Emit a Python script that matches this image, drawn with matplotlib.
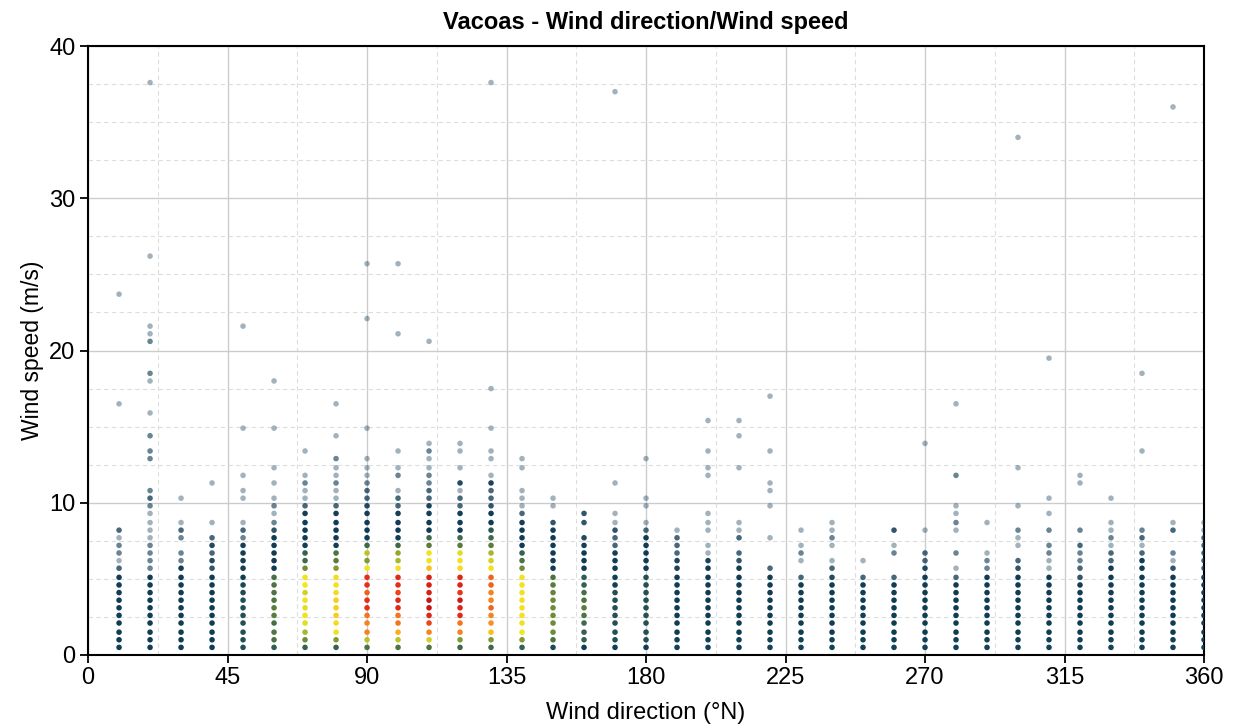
import matplotlib
matplotlib.use("Agg")
import matplotlib.pyplot as plt
from matplotlib.colors import LinearSegmentedColormap, Normalize
from matplotlib.ticker import MultipleLocator
import numpy as np

plt.rcParams['font.family'] = ['Liberation Sans', 'DejaVu Sans']

KT_TO_MS = 0.5144  # speeds were logged in knots

directions = [10, 20, 30, 40, 50, 60, 70, 80, 90, 100, 110, 120,
              130, 140, 150, 160, 170, 180, 190, 200, 210, 220, 230, 240,
              250, 260, 270, 280, 290, 300, 310, 320, 330, 340, 350, 360]

# observations per speed class (1 kt, 2 kt, 3 kt ...), one row per direction
core_counts = [
    [14, 14, 14, 14, 14, 14, 14, 14, 12, 10, 3, 1, 2, 2, 1, 3],
    [14, 14, 14, 14, 14, 14, 14, 14, 12, 10, 2, 2, 2, 2, 1, 1, 1, 1, 2, 3],
    [14, 14, 14, 14, 14, 14, 14, 14, 12, 10, 8, 2, 2, 0, 2, 3, 1, 0, 0, 1],
    [14, 14, 14, 14, 14, 14, 14, 14, 12, 10, 4, 5, 3, 5, 3, 0, 1],
    [22, 22, 22, 22, 22, 22, 22, 20, 18, 15, 8, 8, 8, 8, 2, 3, 1, 0, 0, 1],
    [28, 40, 42, 38, 45, 45, 42, 40, 40, 38, 10, 10, 10, 10, 10, 4, 2, 1, 2, 1],
    [30, 50, 65, 80, 90, 80, 90, 75, 85, 90, 50, 35, 30, 15, 12, 10, 10, 8, 3, 1],
    [30, 55, 90, 95, 105, 105, 105, 95, 90, 95, 55, 45, 40, 15, 12, 10, 10, 8, 3, 1],
    [40, 70, 130, 130, 135, 160, 160, 140, 160, 160, 90, 55, 70, 35, 15, 12, 10, 8, 5, 3],
    [40, 70, 115, 135, 135, 165, 165, 150, 160, 165, 90, 65, 60, 35, 15, 12, 10, 8, 3, 3],
    [40, 75, 130, 150, 170, 190, 190, 175, 175, 175, 110, 90, 90, 45, 35, 12, 10, 8, 6, 3],
    [35, 55, 130, 135, 165, 170, 185, 155, 170, 170, 95, 90, 80, 45, 35, 12, 10, 8, 3, 3],
    [35, 55, 110, 125, 130, 140, 130, 130, 140, 140, 90, 75, 65, 45, 35, 25, 10, 10, 4, 3],
    [30, 55, 85, 90, 90, 90, 90, 90, 90, 90, 50, 40, 30, 12, 10, 10, 8, 3, 1, 1],
    [20, 40, 50, 50, 50, 50, 50, 48, 45, 40, 12, 10, 10, 10, 10, 8, 4, 0, 1, 1],
    [12, 30, 30, 35, 40, 45, 40, 38, 30, 28, 10, 10, 10, 8, 5, 0, 4, 4],
    [12, 22, 22, 22, 22, 22, 22, 22, 15, 15, 10, 10, 8, 3, 3, 4, 1, 1],
    [12, 22, 22, 22, 22, 22, 22, 22, 22, 22, 10, 10, 10, 10, 10, 3, 1, 0, 1, 1],
    [16, 16, 14, 14, 12, 12, 12, 12, 12, 12, 6, 6, 3, 3, 3, 1],
    [16, 16, 14, 14, 12, 12, 12, 12, 12, 12, 12, 6, 1, 1, 0, 1, 1, 1],
    [16, 16, 14, 14, 12, 12, 12, 12, 12, 12, 8, 4, 3, 0, 3, 1, 1],
    [16, 16, 14, 14, 12, 12, 12, 12, 12, 10, 3, 0, 0, 0, 1, 0, 0, 0, 1],
    [16, 16, 14, 14, 12, 12, 12, 12, 10, 3, 0, 1, 2, 1, 0, 1],
    [16, 16, 14, 14, 12, 12, 12, 12, 10, 5, 3, 1, 0, 1, 2, 1, 1],
    [16, 16, 14, 14, 12, 12, 12, 12, 10, 3, 0, 1],
    [16, 16, 14, 14, 12, 12, 12, 12, 10, 3, 0, 0, 2, 1, 0, 4],
    [16, 16, 14, 14, 12, 12, 12, 12, 10, 10, 5, 3, 3, 0, 0, 1],
    [16, 16, 14, 14, 12, 12, 12, 12, 10, 3, 1, 0, 2, 0, 0, 1, 2, 1, 1],
    [16, 16, 14, 14, 12, 12, 12, 12, 12, 10, 2, 2, 1, 0, 0, 0, 1],
    [16, 16, 14, 14, 12, 12, 12, 12, 12, 10, 4, 3, 0, 1, 1, 2, 0, 0, 1],
    [16, 16, 14, 14, 12, 12, 12, 12, 12, 10, 1, 1, 2, 2, 0, 2, 0, 1, 0, 1],
    [16, 16, 14, 14, 12, 12, 12, 12, 10, 4, 3, 2, 2, 3, 0, 2],
    [16, 16, 14, 14, 12, 12, 12, 12, 12, 12, 10, 3, 3, 1, 2, 1, 1, 0, 0, 1],
    [16, 16, 14, 14, 12, 12, 12, 12, 12, 12, 10, 10, 3, 1, 3, 2],
    [16, 16, 14, 14, 12, 12, 12, 12, 12, 10, 4, 1, 2, 0, 0, 3, 1],
    [16, 16, 14, 14, 12, 12, 12, 12, 12, 10, 3, 3, 3, 3, 3, 1, 1],
]

# sparse readings above the columns: (direction, speed kt, observations)
extra_points = [
    (10, 32, 1), (10, 46, 1),
    (20, 21, 2), (20, 25, 2), (20, 26, 2), (20, 28, 2), (20, 31, 1), (20, 35, 1),
    (20, 36, 2), (20, 40, 2), (20, 41, 1), (20, 42, 1), (20, 51, 1), (20, 73, 1),
    (40, 22, 1),
    (50, 21, 1), (50, 23, 1), (50, 29, 1), (50, 42, 1),
    (60, 22, 1), (60, 24, 1), (60, 29, 1), (60, 35, 1),
    (70, 21, 1), (70, 22, 2), (70, 23, 1), (70, 26, 1),
    (80, 21, 1), (80, 22, 2), (80, 23, 1), (80, 24, 1), (80, 25, 2), (80, 28, 1), (80, 32, 1),
    (90, 21, 3), (90, 22, 2), (90, 23, 1), (90, 24, 1), (90, 25, 1), (90, 29, 1),
    (90, 43, 1), (90, 50, 1),
    (100, 21, 1), (100, 23, 2), (100, 24, 1), (100, 26, 1), (100, 41, 1), (100, 50, 1),
    (110, 21, 3), (110, 22, 2), (110, 23, 2), (110, 24, 1), (110, 25, 1), (110, 26, 2),
    (110, 27, 1), (110, 40, 1),
    (120, 21, 1), (120, 22, 5), (120, 24, 1), (120, 26, 1), (120, 27, 1),
    (130, 21, 3), (130, 22, 6), (130, 23, 1), (130, 25, 1), (130, 26, 1), (130, 29, 1),
    (130, 34, 1), (130, 73, 1),
    (140, 21, 1), (140, 24, 1), (140, 25, 1),
    (170, 22, 1), (170, 72, 1),
    (180, 25, 1),
    (200, 23, 1), (200, 24, 1), (200, 26, 1), (200, 30, 1),
    (210, 24, 1), (210, 28, 1), (210, 30, 1),
    (220, 21, 1), (220, 22, 1), (220, 26, 1), (220, 33, 1),
    (270, 27, 1),
    (280, 23, 2), (280, 32, 1),
    (300, 24, 1), (300, 66, 1),
    (310, 38, 1),
    (320, 22, 1), (320, 23, 1),
    (340, 26, 1), (340, 36, 1),
    (350, 70, 1),
]

# colour ramp by number of observations
cmap = LinearSegmentedColormap.from_list('density', [
    (0.00, '#0c3650'), (0.07, '#0f3d55'), (0.13, '#2b5a55'), (0.22, '#577a3e'),
    (0.32, '#a3b52c'), (0.42, '#efe91f'), (0.52, '#fbcf1a'), (0.63, '#f7911e'),
    (0.78, '#e9321b'), (1.00, '#c10c12')])
norm = Normalize(vmin=0, vmax=200)

xs, ks, ns = [], [], []
for d, row in zip(directions, core_counts):
    for k, n in enumerate(row, start=1):
        if n > 0:
            xs.append(d)
            ks.append(k)
            ns.append(n)
for d, k, n in extra_points:
    xs.append(d)
    ks.append(k)
    ns.append(n)

xs = np.array(xs)
ns = np.array(ns)
speed = np.round(np.array(ks) * KT_TO_MS, 1)
colors = cmap(norm(ns))
colors[:, 3] = 1 - 0.62 ** ns
order = np.argsort(ns)

fig = plt.figure(figsize=(12.35, 7.26), dpi=100)
ax = fig.add_axes([0.0713, 0.0978, 0.9036, 0.8388])

ax.scatter(xs[order], speed[order], s=16, c=colors[order], linewidths=0, zorder=3)

ax.set_xlim(0, 360)
ax.set_ylim(0, 40)
ax.xaxis.set_major_locator(MultipleLocator(45))
ax.xaxis.set_minor_locator(MultipleLocator(22.5))
ax.yaxis.set_major_locator(MultipleLocator(10))
ax.yaxis.set_minor_locator(MultipleLocator(2.5))

ax.set_axisbelow(True)
ax.grid(which='major', color='#cccccc', linewidth=1.0)
ax.grid(which='minor', color='#dddddd', linewidth=0.8, linestyle=(0, (4, 3)))

ax.tick_params(which='major', direction='out', length=6, width=1.3, labelsize=17,
               colors='black', pad=3)
ax.tick_params(which='minor', length=0)
for sp in ax.spines.values():
    sp.set_linewidth(1.5)
    sp.set_color('black')

ax.set_title('Vacoas - Wind direction/Wind speed', fontsize=17, fontweight='bold', pad=12)
ax.set_xlabel('Wind direction (°N)', fontsize=17, labelpad=9)
ax.set_ylabel('Wind speed (m/s)', fontsize=16.5, labelpad=4)

fig.savefig('out.png', dpi=100)
